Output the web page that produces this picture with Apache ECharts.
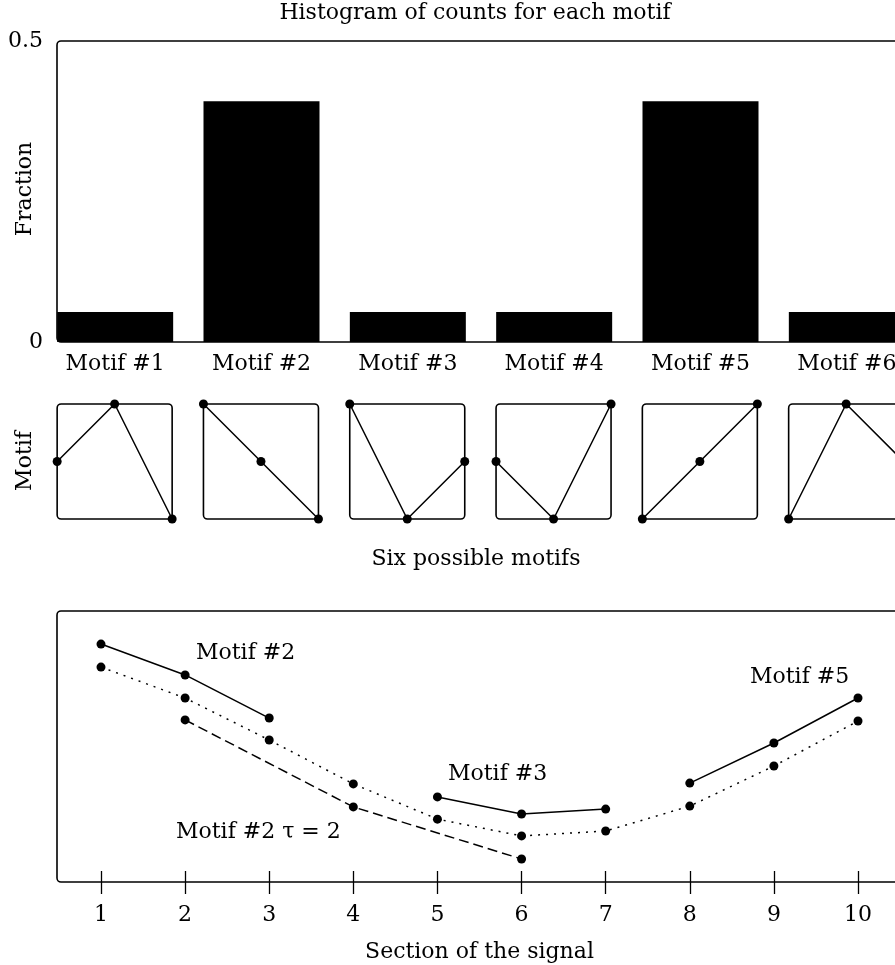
<!DOCTYPE html>
<html>
<head>
<meta charset="utf-8">
<script src="https://cdn.jsdelivr.net/npm/echarts@6.0.0/dist/echarts.min.js"></script>
<style>
html, body { margin: 0; padding: 0; background: #fff; }
#chart { width: 895px; height: 965px; }
</style>
</head>
<body>
<div id="chart"></div>
<script>
// histogram
const motifNames = ['Motif #1', 'Motif #2', 'Motif #3', 'Motif #4', 'Motif #5', 'Motif #6']
const motifFractions = [0.05, 0.4, 0.05, 0.05, 0.4, 0.05]
const fractionMax = 0.5

// ordinal patterns of the six motifs (rank of each of the 3 samples)
const motifPatterns = [
  [1, 2, 0],
  [2, 1, 0],
  [2, 0, 1],
  [1, 0, 2],
  [0, 1, 2],
  [0, 2, 1]
]

// signal sections
const sections = [1, 2, 3, 4, 5, 6, 7, 8, 9, 10]
const signal = [7.93, 6.79, 5.24, 3.62, 2.32, 1.70, 1.88, 2.80, 4.28, 5.94]
const motif2X = [1, 2, 3]
const motif2Y = [8.78, 7.64, 6.05]
const motif2TauX = [2, 4, 6]
const motif2TauY = [5.98, 2.77, 0.85]
const motif3X = [5, 6, 7]
const motif3Y = [3.14, 2.51, 2.69]
const motif5X = [8, 9, 10]
const motif5Y = [3.65, 5.13, 6.79]

const font = 'DejaVu Serif'
const black = '#000'

const chart = echarts.init(document.getElementById('chart'))

const pairs = (xs, ys) => xs.map((x, i) => [x, ys[i]])

const squareLeft = i => 57.15 + i * 146.3

const grid = [{ left: 42, top: 41, width: 878, height: 301, outerBoundsMode: 'none' }]
const xAxis = [
  {
    type: 'category',
    gridIndex: 0,
    data: motifNames,
    axisLine: { show: false },
    axisTick: { show: false },
    axisLabel: { margin: 11, fontSize: 22, fontFamily: font, color: black }
  }
]
const yAxis = [
  {
    type: 'value',
    gridIndex: 0,
    min: 0,
    max: fractionMax,
    interval: fractionMax,
    axisLine: { show: false },
    axisTick: { show: false },
    splitLine: { show: false },
    axisLabel: { margin: -1, fontSize: 22, fontFamily: font, color: black }
  }
]
const series = [
  {
    type: 'bar',
    xAxisIndex: 0,
    yAxisIndex: 0,
    data: motifFractions,
    barWidth: 116,
    itemStyle: { color: black }
  }
]

const lineSeries = (axis, data, type) => ({
  type: 'line',
  xAxisIndex: axis,
  yAxisIndex: axis,
  data: data,
  symbol: 'circle',
  symbolSize: 9,
  clip: false,
  itemStyle: { color: black },
  lineStyle: { color: black, width: 1.5, type: type || 'solid' }
})

// small motif squares
motifPatterns.forEach((p, i) => {
  grid.push({ left: squareLeft(i), top: 404, width: 115, height: 115, outerBoundsMode: 'none' })
  xAxis.push({ type: 'value', gridIndex: i + 1, min: 0, max: 2, show: false })
  yAxis.push({ type: 'value', gridIndex: i + 1, min: 0, max: 2, show: false })
  series.push(lineSeries(i + 1, p.map((v, k) => [k, v])))
})

// signal panel
grid.push({ left: 101, top: 611, width: 757, height: 271, outerBoundsMode: 'none' })
xAxis.push(
  {
    type: 'value',
    gridIndex: 7,
    min: 1,
    max: 10,
    interval: 1,
    axisLine: { show: false },
    axisTick: { length: 12, lineStyle: { color: black, width: 1.3 } },
    splitLine: { show: false },
    axisLabel: { margin: 22, fontSize: 22, fontFamily: font, color: black },
    name: 'Section of the signal',
    nameLocation: 'middle',
    nameGap: 59,
    nameTextStyle: { fontSize: 22, fontFamily: font, color: black }
  },
  {
    type: 'value',
    gridIndex: 7,
    position: 'bottom',
    min: 1,
    max: 10,
    interval: 1,
    axisLine: { show: false },
    axisTick: { inside: true, length: 11, lineStyle: { color: black, width: 1.3 } },
    splitLine: { show: false },
    axisLabel: { show: false }
  }
)
yAxis.push({ type: 'value', gridIndex: 7, min: 0, max: 10, show: false })
series.push(
  lineSeries(7, pairs(sections, signal), [2, 6]),
  lineSeries(7, pairs(motif2X, motif2Y)),
  lineSeries(7, pairs(motif2TauX, motif2TauY), [10, 5]),
  lineSeries(7, pairs(motif3X, motif3Y)),
  lineSeries(7, pairs(motif5X, motif5Y))
)

const frame = (x, y, w, h) => ({
  type: 'rect',
  z: 100,
  silent: true,
  shape: { x: x, y: y, width: w, height: h, r: 4 },
  style: { fill: null, stroke: black, lineWidth: 1.6 }
})

const text = (str, x, y, align, rotation) => ({
  type: 'text',
  x: x,
  y: y,
  rotation: rotation || 0,
  z: 100,
  silent: true,
  style: {
    text: str,
    fontSize: 22,
    fontFamily: font,
    fill: black,
    align: align || 'center',
    verticalAlign: 'middle'
  }
})

const graphic = [
  frame(57, 41, 870, 301),
  frame(57, 611, 870, 271),
  text('Histogram of counts for each motif', 475, 13),
  text('Fraction', 25, 189, 'center', Math.PI / 2),
  text('Motif', 25, 461, 'center', Math.PI / 2),
  text('Six possible motifs', 476, 559),
  text('Motif #2', 196, 653, 'left'),
  text('Motif #3', 448, 774, 'left'),
  text('Motif #5', 750, 677, 'left'),
  text('Motif #2 τ = 2', 176, 832, 'left')
]
motifPatterns.forEach((p, i) => {
  graphic.push(frame(squareLeft(i), 404, 115, 115))
})

chart.setOption({
  animation: false,
  backgroundColor: '#fff',
  textStyle: { fontFamily: font },
  grid: grid,
  xAxis: xAxis,
  yAxis: yAxis,
  series: series,
  graphic: graphic
})
</script>
</body>
</html>
